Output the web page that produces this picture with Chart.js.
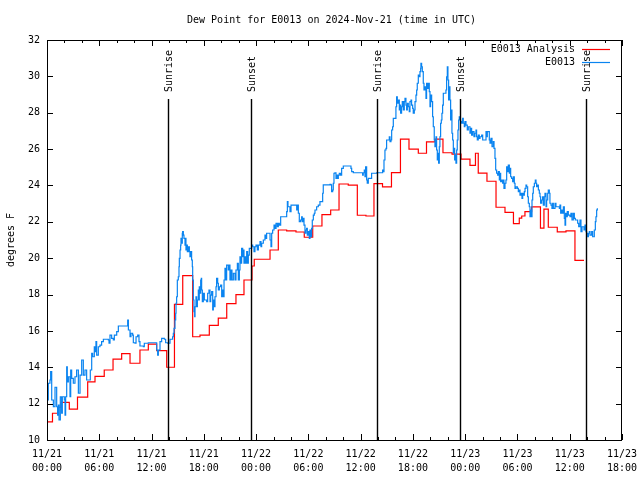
<!DOCTYPE html>
<html><head><meta charset="utf-8">
<script src="https://cdn.jsdelivr.net/npm/chart.js@4/dist/chart.umd.min.js"></script>
<style>html,body{margin:0;padding:0;background:#fff}canvas{display:block}</style>
</head><body>
<canvas id="c" width="640" height="480"></canvas>
<script>
const titleText = "Dew Point for E0013 on 2024-Nov-21 (time in UTC)";
const yAxisTitle = "degrees F";
const seriesNames = ["E0013 Analysis", "E0013"];
const xTickHours = [0, 6, 12, 18, 24, 30, 36, 42, 48, 54, 60, 66];
const xTickLabels = [["11/21","00:00"],["11/21","06:00"],["11/21","12:00"],["11/21","18:00"],
  ["11/22","00:00"],["11/22","06:00"],["11/22","12:00"],["11/22","18:00"],
  ["11/23","00:00"],["11/23","06:00"],["11/23","12:00"],["11/23","18:00"]];
const yTickValues = [10, 12, 14, 16, 18, 20, 22, 24, 26, 28, 30, 32];
const sunHours = [13.92, 23.42, 37.92, 47.41, 61.9];
const sunLabels = ["Sunrise", "Sunset", "Sunrise", "Sunset", "Sunrise"];

// hours since 11/21 00:00 UTC
const analysisHours = [0,0.63,1.3,1.61,2.56,3.5,4.67,5.51,6.57,7.58,8.57,9.53,10.67,11.63,12.59,13.74,14.63,15.58,16.72,17.56,18.63,19.66,20.63,21.69,22.61,23.53,23.79,25.6,26.55,27.51,28.58,29.53,30.5,31.56,32.56,33.52,34.58,35.62,36.61,37.53,38.51,39.54,40.57,41.55,42.62,43.56,44.53,45.45,46.49,47.52,48.55,49.18,49.5,50.5,51.54,52.57,53.54,54.21,54.49,54.86,55.63,56.64,57.04,57.54,58.57,59.57,60.6,61.64];
const analysisValues = [11.0,11.47,11.8,12.07,11.7,12.36,13.2,13.5,13.85,14.45,14.75,14.22,14.95,15.27,14.92,14.0,17.46,19.04,15.68,15.77,16.3,16.7,17.5,18.0,18.8,19.57,19.94,20.45,21.55,21.5,21.44,21.15,21.77,22.4,22.65,24.08,24.02,22.36,22.32,24.1,23.92,24.71,26.55,26.0,25.77,26.4,26.55,25.8,25.72,25.45,25.1,25.77,24.68,24.23,22.8,22.52,21.9,22.2,22.32,22.56,22.82,21.65,22.7,21.7,21.45,21.5,19.88,19.88];

const obsHours = [0,0.08,0.15,0.34,0.42,0.54,0.73,0.92,1.11,1.22,1.3,1.38,1.53,1.68,1.76,1.99,2.07,2.14,2.26,2.33,2.45,2.64,2.72,2.83,3.02,3.21,3.4,3.6,3.79,3.98,4.17,4.36,4.55,4.74,4.97,5.13,5.24,5.43,5.51,5.62,5.7,5.89,6.08,6.27,6.47,7.04,7.12,7.23,7.42,7.61,7.73,8.0,8.19,9.14,9.26,9.34,9.53,9.64,9.83,9.91,10.1,10.22,10.41,10.56,10.67,11.06,11.17,11.63,12.51,12.59,12.7,12.78,12.97,13.16,13.47,13.62,13.85,
14.12,14.42,14.5,14.58,14.69,14.77,14.81,14.88,14.96,15.07,15.15,15.19,15.27,15.34,15.38,15.46,15.53,15.57,15.65,15.72,15.84,15.92,15.95,16.03,16.11,16.22,16.34,16.41,16.49,16.6,16.68,16.72,16.8,16.87,16.95,16.99,17.1,17.18,17.26,17.37,17.45,17.48,17.56,17.64,17.71,17.75,17.83,17.94,18.06,18.33,18.44,18.59,18.71,18.79,18.9,19.02,19.09,19.21,19.28,19.4,19.47,19.59,19.67,19.78,19.93,20.05,20.16,20.24,20.32,20.43,20.51,20.62,20.81,20.89,21.0,21.12,21.23,21.39,21.58,21.69,21.85,21.96,22.08,22.15,22.23,22.34,22.46,22.54,22.61,22.73,22.84,22.92,23.03,23.11,23.22,23.42,23.49,23.61,23.76,23.87,23.99,24.14,24.26,24.45,24.56,24.64,24.83,25.02,25.14,25.21,25.4,25.6,25.71,25.79,25.9,26.06,26.17,26.29,26.44,26.55,26.67,26.82,27.43,27.51,27.59,27.66,27.89,28.01,28.47,28.66,28.77,28.85,28.96,
29.11,29.23,29.3,29.42,29.5,29.61,29.72,29.8,29.88,29.99,30.11,30.18,30.26,30.37,30.45,30.57,30.68,30.76,30.95,31.14,31.33,31.52,31.64,31.71,32.48,32.59,32.67,32.79,32.86,32.94,33.05,33.17,33.24,33.32,33.44,33.55,33.7,33.82,34.01,34.77,34.89,34.97,35.16,36.11,36.23,36.3,36.42,36.5,36.57,36.69,36.76,36.88,37.07,37.26,37.84,38.22,38.52,
38.6,38.68,38.79,38.91,38.98,39.29,39.37,39.48,39.56,39.67,39.75,39.94,40.05,40.13,40.21,40.32,40.44,40.51,40.59,40.7,40.78,40.9,41.01,41.09,41.2,41.28,41.36,41.47,41.58,41.66,41.78,41.85,41.97,42.04,42.16,42.24,42.35,42.43,42.5,42.62,42.73,42.81,42.89,42.92,43.0,43.08,43.19,43.27,43.38,43.5,43.57,43.65,43.77,43.88,43.96,44.03,44.15,44.26,44.34,44.45,44.53,44.65,44.72,44.8,44.87,44.95,45.03,45.1,45.18,45.26,45.33,45.41,45.49,45.68,45.79,45.87,45.95,46.02,46.1,46.18,46.25,46.33,46.41,46.48,46.56,46.64,46.71,46.79,46.86,46.94,47.02,47.09,47.17,47.25,47.32,47.4,47.48,47.59,47.71,47.78,47.9,47.97,48.09,48.24,48.36,48.55,48.66,48.74,48.85,49.01,49.12,49.24,49.31,49.39,49.5,49.62,
49.7,49.89,50.01,50.39,50.47,50.54,50.66,50.77,50.85,50.96,51.08,51.23,51.31,51.42,51.5,51.61,51.73,51.8,51.92,51.98,52.07,52.19,52.3,52.38,52.45,52.57,52.68,52.76,52.84,52.95,53.07,53.14,53.22,53.33,53.45,53.53,53.64,53.72,53.83,53.99,54.1,54.21,54.29,54.41,54.52,54.6,54.67,54.79,54.87,54.98,55.06,55.17,55.25,55.36,55.44,55.52,55.59,55.67,55.75,55.82,55.94,56.05,56.13,56.2,56.28,56.4,56.51,56.59,56.66,56.78,56.89,56.97,57.08,57.16,57.28,57.35,57.47,57.54,57.66,57.73,57.85,57.96,58.04,58.12,58.31,58.42,58.69,58.81,58.88,58.96,59.07,59.19,59.27,59.38,59.46,59.53,59.65,59.72,59.84,60.03,60.14,60.26,60.41,60.53,60.64,60.8,60.91,61.03,61.18,61.29,61.41,61.56,61.64,61.75,61.87,61.94,62.06,62.14,62.25,62.33,62.52,62.63,62.71,62.82,62.94,63.01,63.09,63.17];
const obsValues = [13.02,12.2,13.12,13.3,13.76,12.2,11.83,12.9,11.83,11.37,11.92,11.1,12.38,11.47,12.38,12.2,11.37,12.38,14.03,13.2,13.48,12.38,13.85,13.39,13.12,13.48,13.85,12.57,13.57,14.4,13.57,13.85,13.3,13.3,13.85,14.77,14.58,15.13,14.86,15.41,14.67,15.13,15.22,15.41,15.54,15.5,15.32,15.77,15.59,15.5,15.77,15.96,16.27,16.27,16.6,16.05,15.68,15.87,15.77,15.35,15.32,15.68,15.77,15.41,15.17,15.13,15.32,15.35,15.35,14.95,14.67,14.95,15.41,15.59,15.54,15.35,15.32,
15.54,15.68,15.87,16.14,16.6,16.97,17.52,17.88,18.8,18.98,19.53,19.99,20.45,20.72,21.09,20.82,21.37,21.46,21.27,21.09,20.72,21.09,20.45,20.72,20.36,20.63,20.36,20.08,20.36,19.9,19.53,18.8,17.7,17.06,16.78,17.33,17.88,17.33,17.7,18.25,17.7,18.43,18.07,18.8,18.89,18.25,17.61,18.07,17.7,17.61,18.07,18.25,17.61,17.97,18.16,17.15,17.7,17.33,17.88,18.43,18.89,18.62,18.25,18.43,18.52,17.88,18.25,17.88,18.8,19.44,18.8,19.62,19.35,19.62,18.8,19.35,18.8,19.17,18.8,19.35,19.72,18.8,19.35,20.08,19.72,20.54,20.08,20.45,19.72,20.08,19.72,20.36,19.72,20.17,20.54,20.54,20.72,20.63,20.36,20.63,20.72,20.45,20.72,20.91,20.63,20.82,21.0,21.27,21.09,21.37,21.37,21.0,20.63,21.37,21.55,21.82,21.64,21.92,21.73,21.92,21.82,22.28,22.28,22.56,23.11,22.83,22.56,22.92,22.92,22.65,22.92,22.47,22.01,
22.1,22.28,22.01,22.19,21.82,21.37,21.55,21.64,21.27,21.46,21.09,21.55,21.18,21.64,22.1,22.37,22.47,22.65,22.83,22.92,23.11,23.11,23.57,24.03,24.06,24.03,23.66,23.75,24.12,24.67,24.7,24.39,24.57,24.39,24.57,24.67,24.57,24.94,25.07,25.07,24.94,24.76,24.7,24.7,24.57,24.7,24.85,24.48,25.03,24.3,24.12,24.39,24.39,24.67,24.7,24.7,24.85,
24.76,25.4,25.95,26.04,26.5,26.68,26.41,26.5,27.05,27.23,27.69,27.69,28.33,28.88,28.52,28.7,28.15,28.42,27.97,28.33,28.61,28.15,28.61,28.79,28.42,28.15,28.52,28.33,28.06,28.61,28.7,28.42,28.24,27.97,28.15,28.61,28.97,29.25,29.62,30.07,29.98,30.26,30.44,30.72,30.53,30.26,29.62,29.25,29.43,28.79,29.62,29.34,29.62,29.16,28.33,28.97,28.61,27.78,27.23,26.5,26.13,26.68,25.95,25.4,25.77,25.22,26.13,26.68,27.42,27.6,27.97,28.42,29.07,29.07,29.25,29.98,30.53,29.8,28.7,29.43,28.7,27.6,28.15,26.87,26.5,25.77,26.04,25.4,25.67,25.22,25.95,26.5,27.05,27.6,27.78,27.6,27.51,27.42,27.69,27.42,27.23,27.51,27.32,27.05,27.23,26.87,27.14,26.77,26.96,26.68,26.87,27.05,26.68,26.5,26.77,26.59,
26.68,26.77,26.5,26.96,26.68,26.96,26.96,26.5,26.32,26.59,26.13,26.41,26.04,25.49,24.85,24.67,24.57,24.76,24.3,24.67,24.21,24.3,24.12,24.3,23.84,24.12,24.3,25.03,24.76,25.12,24.67,24.94,24.48,24.39,24.21,24.48,24.12,23.84,23.93,23.84,23.66,23.75,23.47,23.57,23.29,23.57,23.47,23.66,23.84,24.02,23.93,23.38,23.02,22.83,22.28,22.65,22.28,23.2,23.57,23.93,24.12,24.3,24.12,23.93,24.02,23.75,23.57,23.38,23.02,23.2,23.38,22.92,23.38,23.57,22.83,23.2,23.57,23.75,23.57,23.02,22.92,22.74,23.02,22.74,23.02,22.83,22.83,22.74,22.92,22.47,22.65,22.47,22.83,22.19,21.82,22.47,22.28,22.56,22.37,22.28,22.47,22.1,22.47,22.19,22.1,22.1,21.92,21.73,22.1,21.46,21.73,21.73,21.55,21.82,21.46,21.37,21.18,21.37,21.46,21.27,21.46,21.18,21.18,21.55,22.01,22.28,22.65,22.74];

const RED = "#ff0000", BLUE = "#0a84f0";
const FONT = "'DejaVu Sans Mono', 'Liberation Mono', monospace";

const gnuplotDecor = {
  id: 'gnuplotDecor',
  afterDatasetsDraw(chart) {
    const ctx = chart.ctx, a = chart.chartArea;
    const xs = chart.scales.x, ys = chart.scales.y;
    ctx.save();
    ctx.strokeStyle = '#000'; ctx.lineWidth = 1;
    // frame
    ctx.strokeRect(Math.round(a.left) + 0.5, Math.round(a.top) + 0.5, Math.round(a.right - a.left) - 1, Math.round(a.bottom - a.top));
    ctx.beginPath();
    // y ticks (inward, both sides)
    yTickValues.forEach(v => {
      const y = Math.round(ys.getPixelForValue(v)) + 0.5;
      ctx.moveTo(a.left, y); ctx.lineTo(a.left + 6, y);
      ctx.moveTo(a.right, y); ctx.lineTo(a.right - 6, y);
    });
    // x ticks: major every 6 h, minor every 2 h
    for (let h = 0; h <= 66; h += 2) {
      const x = Math.round(xs.getPixelForValue(h)) + 0.5;
      const len = (h % 6 === 0) ? 6 : 3;
      ctx.moveTo(x, a.bottom); ctx.lineTo(x, a.bottom - len);
      ctx.moveTo(x, a.top); ctx.lineTo(x, a.top + len);
    }
    ctx.stroke();
    // sunrise / sunset lines
    ctx.lineWidth = 1.4;
    ctx.font = '10px ' + FONT;
    ctx.fillStyle = '#000';
    sunHours.forEach((h, i) => {
      const x = Math.round(xs.getPixelForValue(h)) + 0.5;
      ctx.beginPath(); ctx.moveTo(x, 99); ctx.lineTo(x, a.bottom); ctx.stroke();
      ctx.save();
      ctx.translate(x + 1, 92);
      ctx.rotate(-Math.PI / 2);
      ctx.textAlign = 'left'; ctx.textBaseline = 'middle';
      ctx.fillText(sunLabels[i], 0, 0);
      ctx.restore();
    });
    // legend
    ctx.textAlign = 'right'; ctx.textBaseline = 'middle';
    const legY = [49.5, 62.5], cols = [RED, BLUE];
    seriesNames.forEach((n, i) => {
      ctx.fillStyle = '#000';
      ctx.fillText(n, 575, legY[i]);
      ctx.strokeStyle = cols[i]; ctx.lineWidth = 1.2;
      ctx.beginPath(); ctx.moveTo(582, legY[i]); ctx.lineTo(610, legY[i]); ctx.stroke();
    });
    // title
    ctx.fillStyle = '#000';
    ctx.textAlign = 'center'; ctx.textBaseline = 'middle';
    ctx.fillText(titleText, 331.5, 20);
    // y axis title
    ctx.save();
    ctx.translate(11, (a.top + a.bottom) / 2);
    ctx.rotate(-Math.PI / 2);
    ctx.fillText(yAxisTitle, 0, 0);
    ctx.restore();
    ctx.restore();
  }
};

Chart.defaults.font.family = FONT;
Chart.defaults.font.size = 10;
Chart.defaults.color = '#000';

new Chart(document.getElementById('c'), {
  type: 'line',
  data: {
    datasets: [
      { label: seriesNames[0], data: analysisHours.map((h, i) => ({x: h, y: analysisValues[i]})),
        borderColor: RED, borderWidth: 1.2, pointRadius: 0, stepped: true, fill: false, order: 1 },
      { label: seriesNames[1], data: obsHours.map((h, i) => ({x: h, y: obsValues[i]})),
        borderColor: BLUE, borderWidth: 1.2, pointRadius: 0, stepped: true, fill: false, order: 0 }
    ]
  },
  options: {
    responsive: false, animation: false, devicePixelRatio: 1,
    layout: { padding: { top: 40, right: 18, left: 0, bottom: 0 } },
    plugins: { legend: { display: false }, title: { display: false }, tooltip: { enabled: false } },
    scales: {
      x: {
        type: 'linear', min: 0, max: 66,
        afterBuildTicks(s) { s.ticks = xTickHours.map(v => ({value: v})); },
        afterFit(s) { s.height = 40; s.paddingLeft = 0; s.paddingRight = 0; },
        grid: { display: false, drawTicks: false }, border: { display: false },
        ticks: { autoSkip: false, maxRotation: 0, padding: 8, font: { lineHeight: 1.35 },
          callback: (v, i) => xTickLabels[i] }
      },
      y: {
        type: 'linear', min: 10, max: 32,
        afterBuildTicks(s) { s.ticks = yTickValues.map(v => ({value: v})); },
        afterFit(s) { s.width = 47; s.paddingTop = 0; s.paddingBottom = 0; },
        grid: { display: false, drawTicks: false }, border: { display: false },
        ticks: { padding: 7, callback: v => String(v) }
      }
    }
  },
  plugins: [gnuplotDecor]
});
</script>
</body></html>
